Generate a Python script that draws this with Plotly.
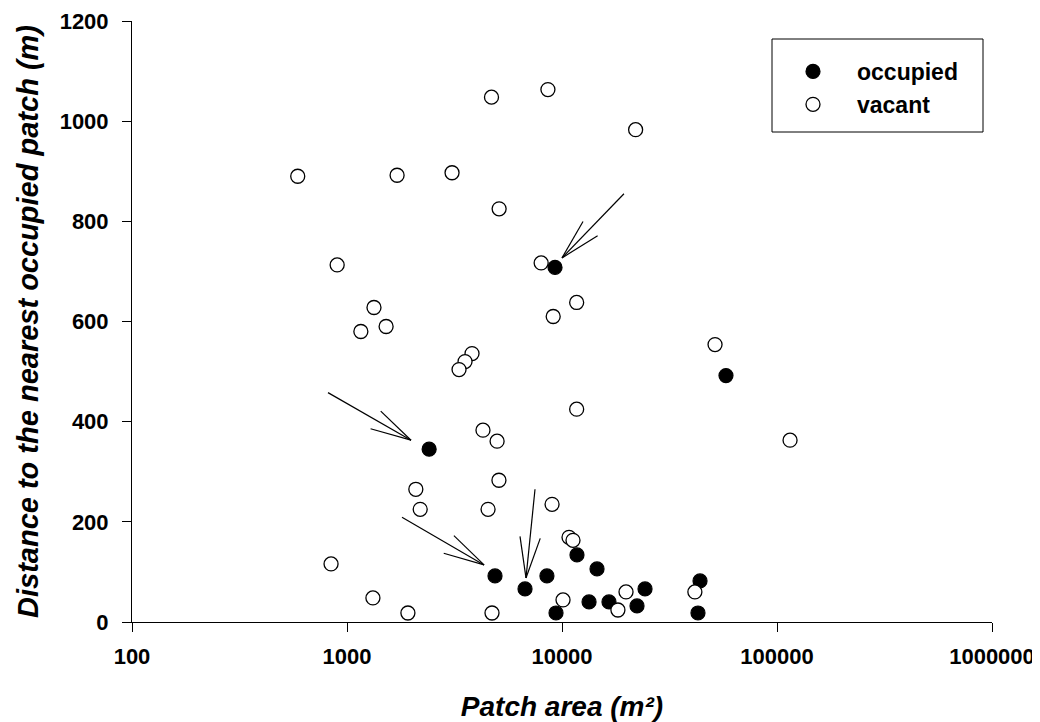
import math
import plotly.graph_objects as go

# ---- data ----
vacant_area = [590, 900, 1710, 3080, 4700, 8600, 22000, 5100, 8000, 9100, 11700,
               1335, 1160, 1520, 3815, 3540, 3320, 11700, 4290, 4990, 5090, 2090,
               2190, 4530, 8990, 10780, 11250, 843, 1320, 1920, 4725, 10110, 19850,
               18200, 41500, 51500, 115000]
vacant_dist = [890, 713, 892, 897, 1048, 1063, 983, 825, 717, 610, 638,
               628, 580, 590, 536, 520, 504, 425, 383, 361, 283, 265,
               225, 225, 235, 169, 163, 116, 48, 18, 18, 44, 60,
               24, 60, 554, 363]

occupied_area = [9280, 57900, 2410, 4880, 6730, 8510, 11740, 14550, 9380, 13360,
                 16540, 22330, 24330, 43850, 42900]
occupied_dist = [708, 492, 345, 92, 66, 92, 134, 106, 18, 40,
                 40, 32, 66, 82, 18]

# arrows: tail -> head, in data units
arrow_tail_area = [19420, 816, 1802, 7490]
arrow_tail_dist = [855, 458, 209, 265]
arrow_head_area = [10000, 1985, 4340, 6800]
arrow_head_dist = [727, 363, 114, 88]

x_tick_vals = [100, 1000, 10000, 100000, 1000000]
x_tick_text = ["100", "1000", "10000", "100000", "1000000"]
y_tick_vals = [0, 200, 400, 600, 800, 1000, 1200]

# ---- layout geometry (page body adds an 8px offset) ----
OFF = 8
W, H = 1040 - OFF, 722 - OFF
ML, MR, MT, MB = 132 - OFF, 48, 21 - OFF, 100
PW, PH = W - ML - MR, H - MT - MB
XR = [2, 6]
YR = [0, 1200]
kx = PW / (XR[1] - XR[0])     # px per decade
ky = PH / (YR[1] - YR[0])     # px per unit


def px_x(p):
    return (p - OFF - ML) / PW


def px_y(p):
    return (MT + PH - (p - OFF)) / PH


FONT = "Arial, 'Liberation Sans', Helvetica, sans-serif"

fig = go.Figure()

fig.add_trace(go.Scatter(
    x=occupied_area, y=occupied_dist, mode="markers", name="occupied",
    marker=dict(symbol="circle", size=14, color="black",
                line=dict(color="black", width=1.2)),
    cliponaxis=False))
fig.add_trace(go.Scatter(
    x=vacant_area, y=vacant_dist, mode="markers", name="vacant",
    marker=dict(symbol="circle", size=14, color="white",
                line=dict(color="black", width=1.3)),
    cliponaxis=False))

# arrows drawn as lines with open V heads
ax_all, ay_all = [], []
barb_len = 42
barb_ang = math.radians(14)
for tx, ty, hx, hy in zip(arrow_tail_area, arrow_tail_dist, arrow_head_area, arrow_head_dist):
    dx = (math.log10(tx) - math.log10(hx)) * kx
    dy = (ty - hy) * ky
    L = math.hypot(dx, dy)
    ux, uy = dx / L, dy / L
    ax_all += [tx, hx, None]
    ay_all += [ty, hy, None]
    for s in (1, -1):
        c, sn = math.cos(s * barb_ang), math.sin(s * barb_ang)
        bx = (ux * c - uy * sn) * barb_len
        by = (ux * sn + uy * c) * barb_len
        ax_all += [hx, 10 ** (math.log10(hx) + bx / kx), None]
        ay_all += [hy, hy + by / ky, None]

fig.add_trace(go.Scatter(
    x=ax_all, y=ay_all, mode="lines", showlegend=False, hoverinfo="skip",
    line=dict(color="black", width=1.2)))

# legend frame
fig.add_shape(type="rect", xref="paper", yref="paper",
              x0=px_x(772), x1=px_x(983), y0=px_y(132), y1=px_y(39),
              line=dict(color="black", width=1), fillcolor="rgba(0,0,0,0)")

fig.update_layout(
    width=W, height=H,
    margin=dict(l=ML, r=MR, t=MT, b=MB, autoexpand=False),
    paper_bgcolor="white", plot_bgcolor="white",
    font=dict(family=FONT, color="black"),
    showlegend=True,
    legend=dict(x=px_x(769), y=px_y(50),
                xanchor="left", yanchor="top",
                bgcolor="rgba(0,0,0,0)", borderwidth=0,
                itemwidth=78,
                font=dict(family=FONT, size=23, color="black", weight="bold"),
                tracegroupgap=0),
    xaxis=dict(type="log", range=XR, tickvals=x_tick_vals, ticktext=x_tick_text,
               showline=True, linecolor="black", linewidth=1, mirror=False,
               ticks="outside", ticklen=9, tickwidth=1, tickcolor="black",
               showgrid=False, zeroline=False, ticklabelstandoff=6,
               tickfont=dict(family=FONT, size=22, color="black", weight="bold"),
               title=dict(text="Patch area (m²)", standoff=36,
                          font=dict(family=FONT, size=28, color="black",
                                    weight="bold", style="italic"))),
    yaxis=dict(range=YR, tickvals=y_tick_vals,
               showline=True, linecolor="black", linewidth=1, mirror=False,
               ticks="outside", ticklen=9, tickwidth=1, tickcolor="black",
               showgrid=False, zeroline=False, ticklabelstandoff=9,
               tickfont=dict(family=FONT, size=22, color="black", weight="bold"),
               title=dict(text="Distance to the nearest occupied patch (m)", standoff=12,
                          font=dict(family=FONT, size=29, color="black",
                                    weight="bold", style="italic"))),
)

fig.write_html("out.html")
